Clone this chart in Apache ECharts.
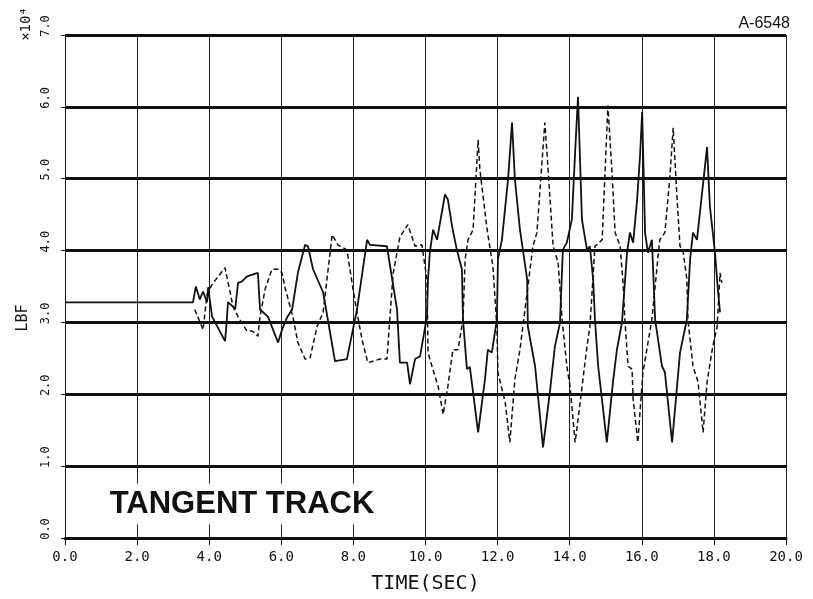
<!DOCTYPE html>
<html>
<head>
<meta charset="utf-8">
<script src="https://cdn.jsdelivr.net/npm/echarts@6/dist/echarts.min.js"></script>
<style>
  html, body { margin: 0; padding: 0; background: #fff; }
  #chart { width: 813px; height: 599px; }
</style>
</head>
<body>
<div id="chart"></div>
<script>
// 坐标轴刻度
var xTicks = [0, 20, 2];   // min, max, interval (sec)
var yTicks = [0, 7, 1];    // min, max, interval (x10^4 LBF)

// 实线 [time, value]
var solidLine = [
  [0, 3.28], [3.55, 3.28], [3.63, 3.50], [3.74, 3.32], [3.83, 3.43], [3.94, 3.28], [3.97, 3.49],
  [4.08, 3.08], [4.44, 2.74], [4.49, 3.04], [4.52, 3.28], [4.66, 3.22], [4.72, 3.18], [4.80, 3.55],
  [4.91, 3.57], [5.05, 3.64], [5.35, 3.69], [5.41, 3.18], [5.63, 3.08], [5.91, 2.72], [6.02, 2.90],
  [6.16, 3.07], [6.30, 3.18], [6.46, 3.69], [6.66, 4.08], [6.74, 4.06], [6.88, 3.74], [7.16, 3.42],
  [7.49, 2.46], [7.82, 2.49], [8.10, 3.18], [8.38, 4.15], [8.46, 4.08], [8.93, 4.06], [9.21, 3.18],
  [9.29, 2.44], [9.49, 2.44], [9.57, 2.14], [9.71, 2.49], [9.85, 2.53], [10.04, 3.08], [10.07, 3.60],
  [10.12, 3.97], [10.21, 4.29], [10.32, 4.15], [10.54, 4.78], [10.62, 4.71], [10.74, 4.33],
  [10.87, 4.01], [11.01, 3.74], [11.04, 3.04], [11.15, 2.35], [11.23, 2.38], [11.46, 1.47],
  [11.65, 2.21], [11.73, 2.62], [11.84, 2.58], [11.98, 3.04], [12.01, 3.88], [12.12, 4.15],
  [12.29, 4.99], [12.40, 5.78], [12.48, 4.99], [12.62, 4.29], [12.82, 3.60], [12.84, 2.94],
  [13.04, 2.39], [13.26, 1.26], [13.45, 2.03], [13.59, 2.67], [13.73, 2.99], [13.81, 4.01],
  [13.92, 4.11], [14.06, 4.43], [14.15, 5.36], [14.23, 6.14], [14.34, 4.43], [14.48, 4.01],
  [14.56, 4.06], [14.65, 3.60], [14.70, 3.04], [14.79, 2.39], [15.03, 1.33], [15.20, 2.17],
  [15.31, 2.62], [15.45, 3.00], [15.59, 3.97], [15.67, 4.25], [15.76, 4.11], [15.87, 4.71],
  [15.95, 5.31], [16.01, 5.93], [16.09, 4.25], [16.17, 3.97], [16.28, 4.15], [16.37, 3.04],
  [16.56, 2.39], [16.64, 2.31], [16.84, 1.33], [17.06, 2.58], [17.25, 3.04], [17.34, 3.88],
  [17.42, 4.25], [17.53, 4.15], [17.81, 5.44], [17.89, 4.61], [18.03, 3.97], [18.11, 3.46],
  [18.17, 3.14]
];

// 虚线 [time, value]
var dashedLine = [
  [3.60, 3.18], [3.83, 2.90], [3.94, 3.39], [4.08, 3.53], [4.44, 3.76], [4.58, 3.42], [4.66, 3.22],
  [4.80, 3.08], [5.05, 2.88], [5.19, 2.88], [5.35, 2.81], [5.41, 3.08], [5.55, 3.46], [5.74, 3.74],
  [5.91, 3.74], [6.02, 3.69], [6.10, 3.49], [6.32, 3.08], [6.46, 2.72], [6.66, 2.49], [6.80, 2.51],
  [6.99, 2.94], [7.16, 3.14], [7.41, 4.22], [7.57, 4.08], [7.82, 4.01], [7.99, 3.46], [8.10, 3.14],
  [8.24, 2.76], [8.40, 2.44], [8.74, 2.49], [8.93, 2.49], [9.10, 3.67], [9.29, 4.19], [9.51, 4.36],
  [9.71, 4.06], [9.90, 4.08], [10.04, 3.60], [10.07, 2.58], [10.18, 2.39], [10.35, 2.11],
  [10.49, 1.72], [10.62, 2.11], [10.76, 2.62], [10.90, 2.62], [11.04, 3.04], [11.10, 3.88],
  [11.18, 4.15], [11.32, 4.29], [11.46, 5.54], [11.51, 5.12], [11.71, 4.29], [11.87, 3.78],
  [11.98, 2.94], [12.01, 2.30], [12.21, 1.89], [12.34, 1.33], [12.48, 2.21], [12.62, 2.62],
  [12.84, 3.50], [12.98, 4.06], [13.09, 4.25], [13.31, 5.78], [13.37, 5.36], [13.54, 4.06],
  [13.68, 3.83], [13.79, 3.04], [13.92, 2.39], [14.01, 2.11], [14.15, 1.33], [14.29, 1.89],
  [14.48, 2.67], [14.56, 2.94], [14.70, 4.06], [14.90, 4.15], [15.06, 6.02], [15.17, 5.12],
  [15.26, 4.25], [15.40, 4.06], [15.48, 3.55], [15.53, 3.04], [15.62, 2.39], [15.73, 2.35],
  [15.76, 1.93], [15.89, 1.33], [16.03, 2.30], [16.28, 3.04], [16.37, 3.50], [16.45, 3.92],
  [16.50, 4.15], [16.64, 4.25], [16.78, 5.03], [16.87, 5.71], [16.98, 4.71], [17.06, 4.06],
  [17.14, 4.01], [17.25, 3.60], [17.28, 3.04], [17.42, 2.39], [17.56, 2.17], [17.70, 1.47],
  [17.81, 2.17], [17.97, 2.67], [18.09, 2.94], [18.17, 3.69], [18.22, 3.55]
];

var chart = echarts.init(document.getElementById('chart'));

var option = {
  backgroundColor: '#fff',
  animation: false,
  grid: {
    left: 65,
    right: 27,
    top: 35,
    bottom: 60
  },
  xAxis: {
    type: 'value',
    min: xTicks[0],
    max: xTicks[1],
    interval: xTicks[2],
    name: 'TIME(SEC)',
    nameLocation: 'middle',
    nameGap: 36,
    nameTextStyle: { fontFamily: 'DejaVu Sans Mono', fontSize: 20, color: '#111' },
    axisLine: { show: true, onZero: false, lineStyle: { color: '#111', width: 3 } },
    axisTick: { show: true, inside: false, length: 7, lineStyle: { color: '#111', width: 1 } },
    axisLabel: {
      margin: 12,
      fontFamily: 'DejaVu Sans Mono',
      fontSize: 14,
      color: '#111',
      formatter: function(v) { return v.toFixed(1); }
    },
    splitLine: { show: true, lineStyle: { color: '#222', width: 1 } }
  },
  yAxis: {
    type: 'value',
    min: yTicks[0],
    max: yTicks[1],
    interval: yTicks[2],
    axisLine: { show: true, onZero: false, lineStyle: { color: '#111', width: 1 } },
    axisTick: { show: true, inside: false, length: 4, lineStyle: { color: '#111', width: 1 } },
    axisLabel: {
      rotate: 90,
      margin: 13,
      padding: [0, 0, 0, 18],
      fontFamily: 'DejaVu Sans Mono',
      fontSize: 12,
      color: '#111',
      formatter: function(v) { return v.toFixed(1); }
    },
    splitLine: { show: true, lineStyle: { color: '#111', width: 3 } }
  },
  series: [{
    name: 'solid',
    type: 'line',
    data: solidLine,
    showSymbol: false,
    lineStyle: { color: '#111', width: 1.8 },
    z: 3
  }, {
    name: 'dashed',
    type: 'line',
    data: dashedLine,
    showSymbol: false,
    lineStyle: { color: '#111', width: 1.5, type: [5, 3] },
    z: 3
  }],
  graphic: [{
    type: 'text',
    x: 23,
    y: 318,
    rotation: Math.PI / 2,
    style: {
      text: 'LBF',
      font: '15px "DejaVu Sans Mono"',
      fill: '#111',
      align: 'center',
      verticalAlign: 'middle'
    }
  }, {
    type: 'text',
    x: 26,
    y: 24,
    rotation: Math.PI / 2,
    style: {
      text: '×10⁴',
      font: '14px "DejaVu Sans Mono"',
      fill: '#111',
      align: 'center',
      verticalAlign: 'middle'
    }
  }, {
    type: 'text',
    x: 790,
    y: 24,
    style: {
      text: 'A-6548',
      font: '16px "Liberation Sans"',
      fill: '#111',
      align: 'right',
      verticalAlign: 'middle'
    }
  }, {
    type: 'text',
    x: 242,
    y: 504,
    z: 10,
    style: {
      text: 'TANGENT TRACK',
      font: 'bold 31px "Liberation Sans"',
      fill: '#111',
      align: 'center',
      verticalAlign: 'middle',
      backgroundColor: '#fff',
      padding: [6, 4, 4, 4]
    }
  }]
};

chart.setOption(option);
</script>
</body>
</html>
